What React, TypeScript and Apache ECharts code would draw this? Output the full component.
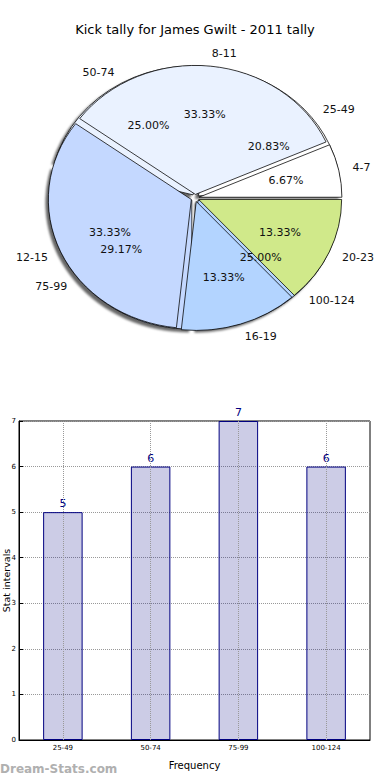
import React, { useEffect, useRef } from "react";
import * as echarts from "echarts";

const titleText = "Kick tally for James Gwilt - 2011 tally";

const kickNames = ["4-7", "8-11", "12-15", "16-19", "20-23"];
const kickCounts = [1, 5, 5, 2, 2];
const kickColors = ["#ffffff", "#eaf2ff", "#c4d8ff", "#b3d4ff", "#d0e98a"];

const statNames = ["25-49", "50-74", "75-99", "100-124"];
const statCounts = [5, 6, 7, 6];
const statColors = ["#ffffff", "#eaf2ff", "#c4d8ff", "#b3d4ff"];

const barCategories = ["25-49", "50-74", "75-99", "100-124"];
const barValues = [5, 6, 7, 6];

const FONT = "DejaVu Sans";
const CX = 195;
const CY = 198;
const RX = 143; // horizontal radius of the (elliptical) pie
const SY = 0.902; // vertical squash of the pie (matplotlib non-equal aspect)

const sum = (a: number[]) => a.reduce((s, v) => s + v, 0);

function slices(names: string[], values: number[], colors: string[], shadow: boolean): any {
  return {
    type: "pie",
    center: [CX, CY],
    radius: [0, RX],
    startAngle: 0,
    clockwise: false,
    avoidLabelOverlap: false,
    emphasis: { disabled: true },
    selectedMode: "multiple",
    selectedOffset: 4,
    silent: true,
    label: { show: false },
    labelLine: { show: false },
    data: names.map((n, i) => ({
      name: n,
      value: values[i],
      selected: true,
      itemStyle: {
        color: colors[i],
        borderColor: "#000",
        borderWidth: 0.8,
        ...(shadow
          ? { shadowColor: "rgba(0,0,0,0.6)", shadowBlur: 2, shadowOffsetX: -3, shadowOffsetY: 3 }
          : {}),
      },
      select: {
        itemStyle: { color: colors[i], borderColor: "#000", borderWidth: 0.8 },
      },
    })),
  };
}

// squash circular label positions into the ellipse
const ellipseLayout = (p: any) => {
  const r = p.labelRect;
  let ax = r.x + r.width / 2;
  if (p.align === "left") ax = r.x;
  else if (p.align === "right") ax = r.x + r.width;
  const ay = r.y + r.height / 2;
  return { x: ax, y: CY + (ay - CY) * SY };
};

function labelSeries(names: string[], values: number[]): any[] {
  const total = sum(values);
  const base = {
    type: "pie",
    center: [CX, CY],
    startAngle: 0,
    clockwise: false,
    avoidLabelOverlap: false,
    emphasis: { disabled: true },
    silent: true,
    itemStyle: { color: "rgba(0,0,0,0)", borderWidth: 0 },
    labelLayout: ellipseLayout,
    data: names.map((n, i) => ({ name: n, value: values[i] })),
  };
  return [
    {
      ...base,
      radius: [0, 180],
      label: {
        show: true,
        position: "inside",
        fontFamily: FONT,
        fontSize: 11,
        color: "#111",
        formatter: (p: any) => ((p.value / total) * 100).toFixed(2) + "%",
      },
      labelLine: { show: false },
    },
    {
      ...base,
      radius: [0, RX],
      label: {
        show: true,
        position: "outside",
        alignTo: "none",
        fontFamily: FONT,
        fontSize: 11,
        color: "#111",
        formatter: "{b}",
        distanceToLabelLine: 0,
      },
      labelLine: { show: false, length: 18, length2: 0 },
    },
  ];
}

export default function App() {
  const pieRef = useRef<HTMLDivElement>(null);
  const ref = useRef<HTMLDivElement>(null);
  useEffect(() => {
    if (!ref.current || !pieRef.current) return;
    const pie = echarts.init(pieRef.current, null, { renderer: "svg" });
    pie.setOption({
      animation: false,
      series: [
        slices(statNames, statCounts, statColors, true),
        slices(kickNames, kickCounts, kickColors, false),
      ],
    });

    const chart = echarts.init(ref.current, null, { renderer: "svg" });
    const option: any = {
      animation: false,
      backgroundColor: "transparent",
      textStyle: { fontFamily: FONT },
      title: {
        text: titleText,
        left: "center",
        top: 18,
        textStyle: { fontFamily: FONT, fontSize: 13, fontWeight: "normal", color: "#000" },
      },
      graphic: [
        {
          type: "text",
          left: 0,
          top: 763,
          style: { text: "Dream-Stats.com", fill: "#b0b0b0", font: "bold 12px DejaVu Sans" },
        },
      ],
      grid: {
        left: 19,
        top: 421,
        width: 351,
        height: 319,
        outerBoundsMode: "none",
        containLabel: false,
        show: true,
        borderColor: "#000",
        borderWidth: 1,
        backgroundColor: "transparent",
      },
      xAxis: {
        type: "category",
        data: barCategories,
        name: "Frequency",
        nameLocation: "middle",
        nameGap: 20,
        nameMoveOverlap: false,
        nameTextStyle: { fontFamily: FONT, fontSize: 10, color: "#000" },
        axisLine: { lineStyle: { color: "#000" } },
        axisTick: { inside: true, alignWithLabel: true, length: 4, lineStyle: { color: "#000" } },
        axisLabel: { fontFamily: FONT, fontSize: 7, color: "#000", margin: 4 },
        splitLine: { show: false },
      },
      yAxis: {
        type: "value",
        min: 0,
        max: 7,
        interval: 1,
        name: "Stat intervals",
        nameLocation: "middle",
        nameRotate: 90,
        nameGap: 8,
        nameMoveOverlap: false,
        nameTextStyle: { fontFamily: FONT, fontSize: 9.5, color: "#000" },
        axisLine: { show: true, lineStyle: { color: "#000" } },
        axisTick: { show: true, inside: true, length: 4, lineStyle: { color: "#000" } },
        axisLabel: { fontFamily: FONT, fontSize: 7, color: "#000", margin: 3 },
        splitLine: { show: true, lineStyle: { type: "dotted", color: "#999", width: 1 } },
      },
      series: [
        ...labelSeries(statNames, statCounts),
        ...labelSeries(kickNames, kickCounts),
        {
          type: "bar",
          data: barValues,
          barWidth: "45%",
          silent: true,
          itemStyle: { color: "rgba(0,0,128,0.2)", borderColor: "#000080", borderWidth: 1 },
          label: {
            show: true,
            position: "top",
            distance: 3,
            fontFamily: FONT,
            fontSize: 11,
            color: "#000080",
          },
          markLine: {
            silent: true,
            symbol: ["none", "none"],
            label: { show: false },
            lineStyle: { type: "dotted", color: "#999", width: 1 },
            data: barCategories.map((c) => ({ xAxis: c })),
          },
        },
      ],
    };
    chart.setOption(option);
    return () => {
      chart.dispose();
      pie.dispose();
    };
  }, []);
  return (
    <div style={{ position: "absolute", left: 0, top: 0, width: 390, height: 780, background: "#fff" }}>
      <div
        ref={pieRef}
        style={{
          position: "absolute",
          left: 0,
          top: 0,
          width: 390,
          height: 400,
          transform: `scaleY(${SY})`,
          transformOrigin: `${CX}px ${CY}px`,
        }}
      />
      <div ref={ref} style={{ position: "absolute", left: 0, top: 0, width: 390, height: 780 }} />
    </div>
  );
}
